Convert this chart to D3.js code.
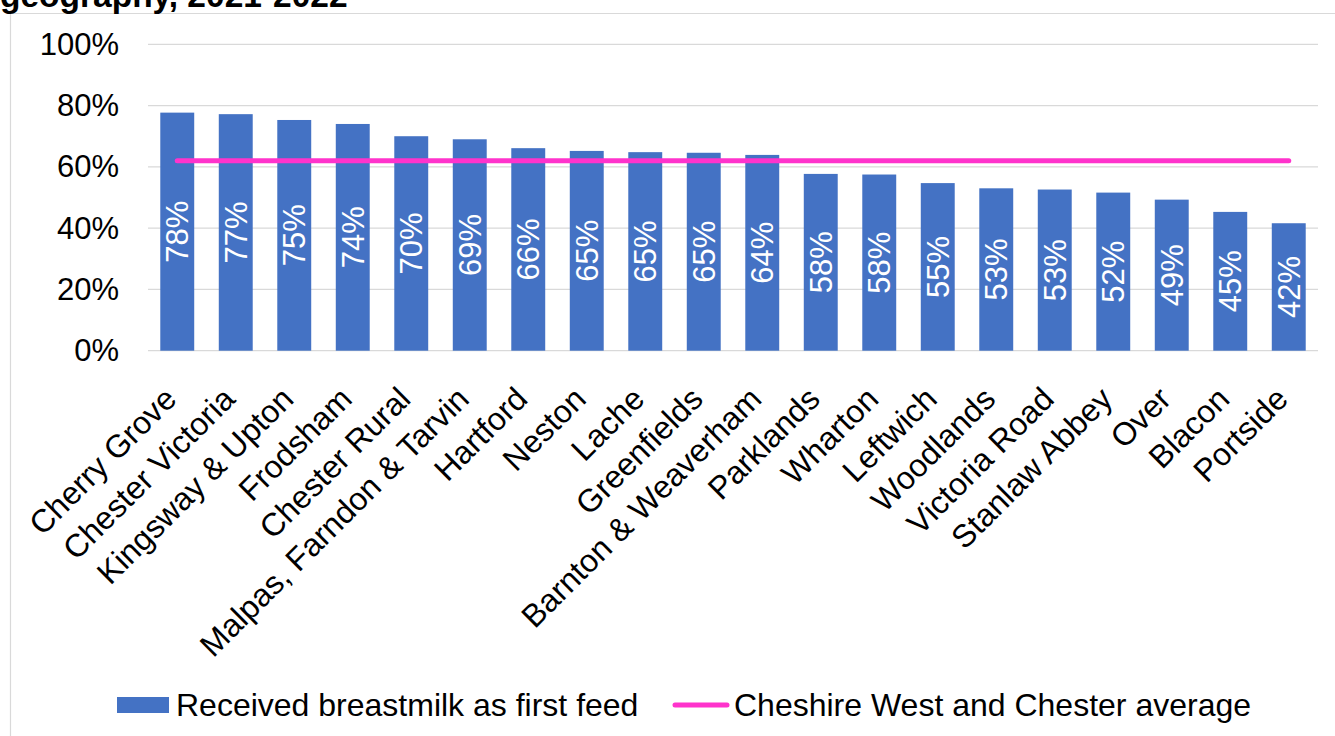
<!DOCTYPE html>
<html>
<head>
<meta charset="utf-8">
<script src="https://cdn.jsdelivr.net/npm/d3@7"></script>
<style>
  html, body { margin: 0; padding: 0; background: #fff; }
  svg { display: block; font-family: Arial, "Liberation Sans", sans-serif; }
</style>
</head>
<body>
<svg id="chart" width="1335" height="736"></svg>
<script>
// Ward names, in chart order
const wards = [
  "Cherry Grove", "Chester Victoria", "Kingsway & Upton", "Frodsham", "Chester Rural",
  "Malpas, Farndon & Tarvin", "Hartford", "Neston", "Lache", "Greenfields",
  "Barnton & Weaverham", "Parklands", "Wharton", "Leftwich", "Woodlands",
  "Victoria Road", "Stanlaw Abbey", "Over", "Blacon", "Portside"
];
// Percentage of babies receiving breastmilk as first feed
const firstFeedPct = [
  77.7, 77.2, 75.3, 74.0, 70.0,
  69.0, 66.1, 65.2, 64.8, 64.6,
  63.9, 57.7, 57.5, 54.7, 53.0,
  52.6, 51.6, 49.3, 45.3, 41.6
];
// Borough-wide average
const boroughAverage = 62.0;
const yTicks = [0, 20, 40, 60, 80, 100];
const seriesNames = ["Received breastmilk as first feed", "Cheshire West and Chester average"];

const barColor = "#4472C4";
const avgColor = "#FF33CC";
const gridColor = "#D9D9D9";
const fontSize = 31;

const svg = d3.select("#chart");

// Outer frame (top and left edges)
svg.append("path")
  .attr("d", "M10.5,736 V13.5 H1335")
  .attr("fill", "none")
  .attr("stroke", gridColor)
  .attr("stroke-width", 1.2);

// Title (second line of the heading)
svg.append("text")
  .attr("x", 0)
  .attr("y", 7)
  .attr("font-size", 33.5)
  .attr("font-weight", "bold")
  .attr("fill", "#000")
  .text("geography, 2021-2022");

const x = d3.scaleBand()
  .domain(wards)
  .range([148, 1318])
  .paddingInner(0.42)
  .paddingOuter(0.21);

const y = d3.scaleLinear()
  .domain([0, 100])
  .range([350.7, 44.3]);

// Gridlines
svg.append("g")
  .selectAll("line")
  .data(yTicks)
  .join("line")
  .attr("x1", 148)
  .attr("x2", 1318)
  .attr("y1", d => y(d))
  .attr("y2", d => y(d))
  .attr("stroke", gridColor)
  .attr("stroke-width", 1.3);

// Y axis labels
const yAxis = d3.axisLeft(y)
  .tickValues(yTicks)
  .tickFormat(d => d + "%")
  .tickSize(0)
  .tickPadding(0);
const yAxisG = svg.append("g")
  .attr("transform", "translate(119,0)")
  .call(yAxis);
yAxisG.select(".domain").remove();
yAxisG.selectAll("text")
  .attr("font-size", fontSize)
  .attr("font-family", "Arial, 'Liberation Sans', sans-serif")
  .attr("fill", "#000");

// Bars
const bars = svg.append("g")
  .selectAll("g")
  .data(wards.map((w, i) => ({ ward: w, value: firstFeedPct[i] })))
  .join("g");

bars.append("rect")
  .attr("x", d => x(d.ward))
  .attr("width", x.bandwidth())
  .attr("y", d => y(d.value))
  .attr("height", d => y(0) - y(d.value))
  .attr("fill", barColor);

// Value labels, rotated and centred in each bar
bars.append("text")
  .attr("transform", d => {
    const cx = x(d.ward) + x.bandwidth() / 2;
    const cy = (y(d.value) + y(0)) / 2;
    return `translate(${cx},${cy}) rotate(-90)`;
  })
  .attr("text-anchor", "middle")
  .attr("dy", "0.35em")
  .attr("font-size", fontSize)
  .attr("fill", "#fff")
  .text(d => Math.round(d.value) + "%");

// Borough average line
svg.append("line")
  .attr("x1", x(wards[0]) + x.bandwidth() / 2)
  .attr("x2", x(wards[wards.length - 1]) + x.bandwidth() / 2)
  .attr("y1", y(boroughAverage))
  .attr("y2", y(boroughAverage))
  .attr("stroke", avgColor)
  .attr("stroke-width", 5)
  .attr("stroke-linecap", "round");

// Category labels, rotated 45 degrees
svg.append("g")
  .selectAll("text")
  .data(wards)
  .join("text")
  .attr("transform", d => `translate(${x(d) + x.bandwidth() / 2 + 1},401) rotate(-45)`)
  .attr("text-anchor", "end")
  .attr("font-size", 32)
  .attr("fill", "#000")
  .text(d => d);

// Legend
const legend = svg.append("g");
legend.append("rect")
  .attr("x", 117).attr("y", 697)
  .attr("width", 52).attr("height", 16)
  .attr("fill", barColor);
legend.append("text")
  .attr("x", 176).attr("y", 716)
  .attr("font-size", 32)
  .attr("fill", "#000")
  .text(seriesNames[0]);
legend.append("line")
  .attr("x1", 675).attr("x2", 727)
  .attr("y1", 705).attr("y2", 705)
  .attr("stroke", avgColor)
  .attr("stroke-width", 5)
  .attr("stroke-linecap", "round");
legend.append("text")
  .attr("x", 734).attr("y", 716)
  .attr("font-size", 32)
  .attr("fill", "#000")
  .text(seriesNames[1]);
</script>
</body>
</html>
